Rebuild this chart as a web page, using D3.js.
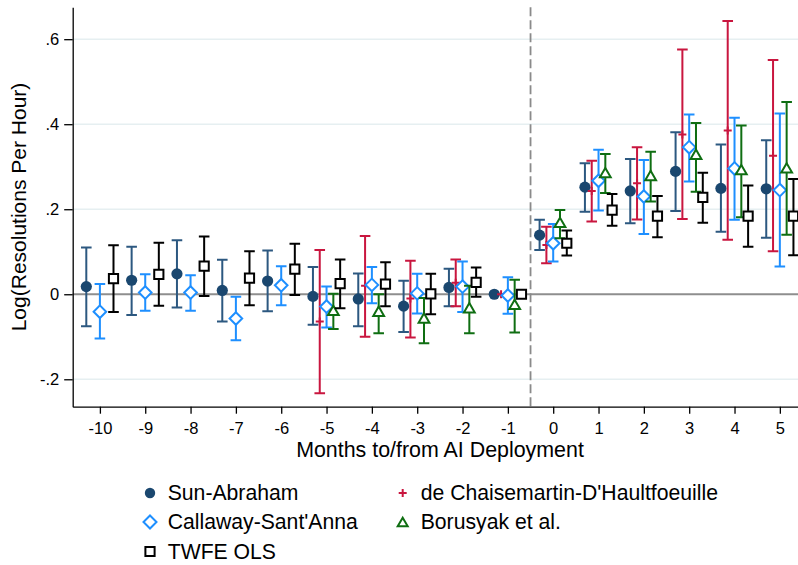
<!DOCTYPE html>
<html><head><meta charset="utf-8">
<script src="https://cdn.jsdelivr.net/npm/d3@7"></script>
<style>
body{margin:0;background:#fff}
svg{display:block}
text{font-family:"Liberation Sans",Arial,Helvetica,sans-serif;fill:#000}
</style>
</head><body>
<svg id="chart" width="798" height="565"></svg>
<script>
// ---- data ----
const months = [-10,-9,-8,-7,-6,-5,-4,-3,-2,-1,0,1,2,3,4,5];
const xTickLabels = ["-10","-9","-8","-7","-6","-5","-4","-3","-2","-1","0","1","2","3","4","5"];
const yTickValues = [-0.2,0,0.2,0.4,0.6];
const yTickLabels = ["-.2","0",".2",".4",".6"];

const saEst = [0.018,0.033,0.048,0.009,0.031,-0.005,-0.011,-0.028,0.016,0,0.139,0.252,0.243,0.289,0.249,0.248];
const saLo  = [-0.075,-0.049,-0.031,-0.064,-0.040,-0.072,-0.075,-0.089,-0.028,0,0.104,0.194,0.167,0.196,0.147,0.133];
const saHi  = [0.110,0.112,0.127,0.081,0.103,0.064,0.049,0.032,0.060,0,0.175,0.308,0.318,0.381,0.352,0.362];

const dcEst = [null,null,null,null,null,-0.064,0.020,-0.010,0.027,0,0.116,0.243,0.261,0.376,0.385,0.326];
const dcLo  = [null,null,null,null,null,-0.233,-0.100,-0.102,-0.028,0,0.073,0.171,0.176,0.177,0.128,0.101];
const dcHi  = [null,null,null,null,null,0.104,0.137,0.079,0.082,0,0.159,0.314,0.346,0.576,0.643,0.551];

const csEst = [-0.041,0.004,0.004,-0.057,0.021,-0.029,0.022,0.002,0.018,-0.003,0.120,0.267,0.230,0.346,0.296,0.245];
const csLo  = [-0.104,-0.039,-0.039,-0.108,-0.026,-0.078,-0.021,-0.045,-0.042,-0.046,0.077,0.197,0.142,0.265,0.175,0.065];
const csHi  = [0.024,0.047,0.045,-0.006,0.066,0.018,0.064,0.048,0.077,0.040,0.165,0.340,0.316,0.423,0.415,0.425];

const boEst = [null,null,null,null,null,-0.039,-0.041,-0.057,-0.033,-0.025,0.168,0.285,0.278,0.328,0.292,0.296];
const boLo  = [null,null,null,null,null,-0.082,-0.092,-0.115,-0.092,-0.090,0.132,0.238,0.218,0.241,0.181,0.140];
const boHi  = [null,null,null,null,null,0.001,0.000,-0.009,0.020,0.034,0.198,0.330,0.335,0.403,0.397,0.452];

const twEst = [0.037,0.047,0.066,0.038,0.059,0.025,0.024,0.001,0.028,0,0.120,0.198,0.184,0.228,0.184,0.184];
const twLo  = [-0.042,-0.027,-0.004,-0.026,-0.002,-0.033,-0.028,-0.047,-0.006,0,0.091,0.161,0.134,0.168,0.112,0.092];
const twHi  = [0.115,0.121,0.136,0.101,0.119,0.082,0.075,0.048,0.063,0,0.150,0.236,0.231,0.286,0.256,0.271];

const seriesNames = ["Sun-Abraham","de Chaisemartin-D'Haultfoeuille","Callaway-Sant'Anna","Borusyak et al.","TWFE OLS"];
const xLabel = "Months to/from AI Deployment";
const yLabel = "Log(Resolutions Per Hour)";

// ---- styling / series setup ----
const series = [
  {name:seriesNames[0], est:saEst, lo:saLo, hi:saHi, off:-0.3,  color:"#1a476f", ci:"#2c5880", marker:"circle"},
  {name:seriesNames[1], est:dcEst, lo:dcLo, hi:dcHi, off:-0.15, color:"#c9163f", ci:"#c9163f", marker:"plus"},
  {name:seriesNames[2], est:csEst, lo:csLo, hi:csHi, off:0,     color:"#1e8fff", ci:"#1e8fff", marker:"diamond"},
  {name:seriesNames[3], est:boEst, lo:boLo, hi:boHi, off:0.15,  color:"#0f6e12", ci:"#0f6e12", marker:"triangle"},
  {name:seriesNames[4], est:twEst, lo:twLo, hi:twHi, off:0.3,   color:"#000000", ci:"#000000", marker:"square"}
];

const svg = d3.select("#chart");
const W = 798, H = 565;
const pLeft = 72.7, pTop = 7.3, pBottom = 406.7;
const x = d3.scaleLinear().domain([-10.6, 5.6]).range([pLeft, pLeft + 16.2*45.33]);
const y = d3.scaleLinear().domain([-0.2645, 0.675]).range([pBottom, pTop]);

// gridlines
svg.append("g").selectAll("line").data(yTickValues.filter(v => v !== 0)).join("line")
  .attr("x1", pLeft).attr("x2", W).attr("y1", d => y(d)).attr("y2", d => y(d))
  .attr("stroke", "#e6eff1").attr("stroke-width", 1.5);

// zero line
svg.append("line").attr("x1", pLeft).attr("x2", W).attr("y1", y(0)).attr("y2", y(0))
  .attr("stroke", "#8e8e8e").attr("stroke-width", 1.8);

// dashed deployment line
svg.append("line").attr("x1", x(-0.5)).attr("x2", x(-0.5)).attr("y1", pTop).attr("y2", pBottom)
  .attr("stroke", "#8a8a8a").attr("stroke-width", 1.8).attr("stroke-dasharray", "9,4");

// axes
const yAxis = d3.axisLeft(y).tickValues(yTickValues)
  .tickFormat((d,i) => yTickLabels[i]).tickSize(8.5).tickSizeOuter(0).tickPadding(5);
const gy = svg.append("g").attr("transform", `translate(${pLeft},0)`).call(yAxis);
gy.selectAll("text").attr("font-size", 16.5).style("font-family", '"Liberation Sans",Arial,sans-serif');

const xAxis = d3.axisBottom(x).tickValues(months)
  .tickFormat((d,i) => xTickLabels[i]).tickSize(7).tickSizeOuter(0).tickPadding(9);
const gx = svg.append("g").attr("transform", `translate(0,${pBottom})`).call(xAxis);
gx.selectAll("text").attr("font-size", 16.5).style("font-family", '"Liberation Sans",Arial,sans-serif');
[gx, gy].forEach(g => {
  g.select(".domain").attr("stroke", "#000").attr("stroke-width", 1.3);
  g.selectAll(".tick line").attr("stroke", "#000").attr("stroke-width", 1.3);
});

// marker paths
function markerPath(type) {
  switch (type) {
    case "circle": return d3.symbol(d3.symbolCircle, Math.PI*5.6*5.6)();
    case "diamond": return "M0,-6.3L6.3,0L0,6.3L-6.3,0Z";
    case "square": return "M-4.6,-4.6H4.6V4.6H-4.6Z";
    case "triangle": return "M0,-5.2L5.4,4.2L-5.4,4.2Z";
    case "plus": return "M-4,0H4M0,-4V4";
  }
}

// plot series
const capHalf = 5.3;
series.forEach(s => {
  const pts = months.map((m,i) => ({m, est:s.est[i], lo:s.lo[i], hi:s.hi[i]}))
    .filter(d => d.est !== null);
  const g = svg.append("g");
  const ci = pts.filter(d => d.hi !== d.lo);
  g.selectAll("path.ci").data(ci).join("path").attr("class","ci")
    .attr("d", d => {
      const cx = x(d.m + s.off), y1 = y(d.hi), y2 = y(d.lo);
      return `M${cx-capHalf},${y1}H${cx+capHalf}M${cx},${y1}V${y2}M${cx-capHalf},${y2}H${cx+capHalf}`;
    })
    .attr("fill","none").attr("stroke", s.ci).attr("stroke-width", 2);
  g.selectAll("path.mk").data(pts).join("path").attr("class","mk")
    .attr("transform", d => `translate(${x(d.m + s.off)},${y(d.est)})`)
    .attr("d", markerPath(s.marker))
    .attr("fill", s.marker === "circle" ? s.color : (s.marker === "plus" ? "none" : "#fff"))
    .attr("stroke", s.marker === "circle" ? "none" : s.color)
    .attr("stroke-width", 2);
});

// axis titles
svg.append("text").attr("x", 440).attr("y", 457).attr("text-anchor","middle")
  .attr("font-size", 21.4).text(xLabel);
svg.append("text").attr("transform","translate(26,207) rotate(-90)").attr("text-anchor","middle")
  .attr("font-size", 21).text(yLabel);

// legend
const legendPos = [
  {s:0, mx:150, tx:167.7, cy:493},
  {s:1, mx:402.7, tx:420.7, cy:493},
  {s:2, mx:150, tx:167.7, cy:522},
  {s:3, mx:402.7, tx:420.7, cy:522},
  {s:4, mx:150, tx:167.7, cy:551.5}
];
const lg = svg.append("g");
legendPos.forEach(p => {
  const s = series[p.s];
  let d = markerPath(s.marker);
  if (s.marker === "diamond") d = "M0,-6.5L6.5,0L0,6.5L-6.5,0Z";
  if (s.marker === "triangle") d = "M0,-4.3L5,4.3L-5,4.3Z";
  if (s.marker === "circle") d = d3.symbol(d3.symbolCircle, Math.PI*5.2*5.2)();
  lg.append("path").attr("transform", `translate(${p.mx},${p.cy})`).attr("d", d)
    .attr("fill", s.marker === "circle" ? s.color : (s.marker === "plus" ? "none" : "#fff"))
    .attr("stroke", s.marker === "circle" ? "none" : s.color).attr("stroke-width", 2);
  lg.append("text").attr("x", p.tx).attr("y", p.cy + 7.4).attr("font-size", 21.2).text(s.name);
});
</script>
</body></html>
